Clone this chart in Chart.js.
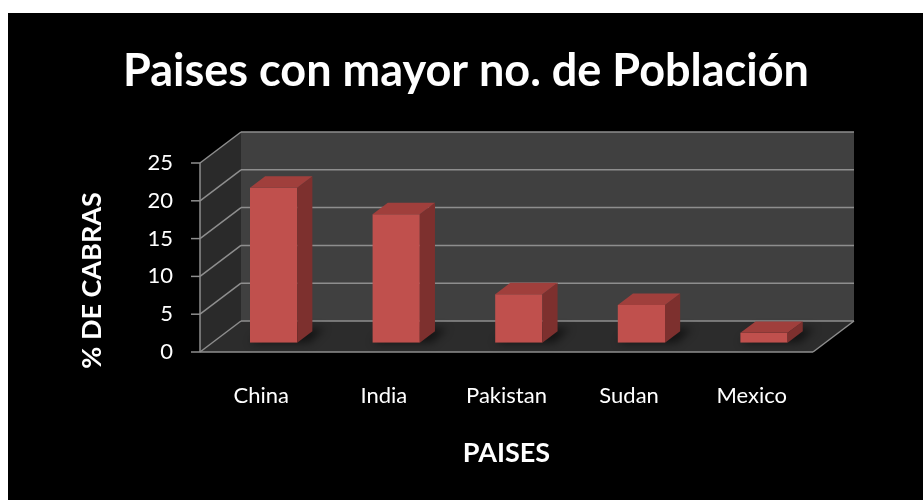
<!DOCTYPE html>
<html lang="es">

<head>
  <meta charset="UTF-8" />
  <title>Paises con mayor no. de Población</title>
  <script src="https://cdn.jsdelivr.net/npm/chart.js"></script>
  <style>
    * {
      margin: 0;
      padding: 0;
      box-sizing: border-box;
    }

    body {
      background: #ffffff;
      width: 923px;
      height: 500px;
      overflow: hidden;
    }

    .card {
      position: absolute;
      left: 8px;
      top: 13px;
      width: 915px;
      height: 487px;
      background: #000000;
    }
  </style>
</head>

<body>
  <div class="card">
    <canvas id="cabrasChart"></canvas>
  </div>

  <script>
    const paises = ['China', 'India', 'Pakistan', 'Sudan', 'Mexico'];
    const porcentajeCabras = [20.5, 17, 6.4, 5.0, 1.3];
    const yTicks = [0, 5, 10, 15, 20, 25];

    // oblique offset of the back wall, and where the bars sit in that depth
    const DX = 41, DY = -31;
    const BAR_FRONT = 0.3, BAR_DEPTH = 0.37;

    function poly(ctx, pts, fill) {
      ctx.beginPath();
      ctx.moveTo(pts[0][0], pts[0][1]);
      for (let i = 1; i < pts.length; i++) ctx.lineTo(pts[i][0], pts[i][1]);
      ctx.closePath();
      ctx.fillStyle = fill;
      ctx.fill();
    }

    function line(ctx, x1, y1, x2, y2) {
      ctx.beginPath();
      ctx.moveTo(x1, y1);
      ctx.lineTo(x2, y2);
      ctx.stroke();
    }

    const box3d = {
      id: 'box3d',
      beforeDatasetsDraw(chart) {
        const ctx = chart.ctx;
        const { left: L, right: R, top: T, bottom: B } = chart.chartArea;
        const y = chart.scales.y;
        ctx.save();
        poly(ctx, [[L, T], [L + DX, T + DY], [L + DX, B + DY], [L, B]], '#2a2a2a');
        poly(ctx, [[L, B], [R, B], [R + DX, B + DY], [L + DX, B + DY]], '#2c2c2c');
        poly(ctx, [[L + DX, T + DY], [R + DX, T + DY], [R + DX, B + DY], [L + DX, B + DY]], '#404040');

        ctx.strokeStyle = '#8e8e8e';
        ctx.lineWidth = 1.5;
        yTicks.forEach(v => {
          const py = y.getPixelForValue(v);
          line(ctx, L + DX, py + DY, R + DX, py + DY);
          line(ctx, L, py, L + DX, py + DY);
          line(ctx, L - 9, py, L, py);
        });
        line(ctx, L, T, L, B);
        line(ctx, L, B, R, B);
        line(ctx, R, B, R + DX, B + DY);

        // soft shadows of the bars on the floor
        const meta = chart.getDatasetMeta(0);
        ctx.filter = 'blur(4px)';
        meta.data.forEach(bar => {
          const { x, width } = bar.getProps(['x', 'width'], true);
          const l = x - width / 2 + BAR_FRONT * DX, r = x + width / 2 + BAR_FRONT * DX;
          const b = B + BAR_FRONT * DY;
          poly(ctx, [[l, b], [r + 12, b], [r + 12 + BAR_DEPTH * DX, b + BAR_DEPTH * DY - 3],
            [l + BAR_DEPTH * DX, b + BAR_DEPTH * DY - 3]], 'rgba(0,0,0,0.55)');
        });
        ctx.filter = 'none';

        // the library draws the front faces, pushed back into the depth
        ctx.translate(BAR_FRONT * DX, BAR_FRONT * DY);
      },
      afterDatasetsDraw(chart) {
        const ctx = chart.ctx;
        ctx.restore();
        const meta = chart.getDatasetMeta(0);
        const bx = BAR_DEPTH * DX, by = BAR_DEPTH * DY;
        meta.data.forEach(bar => {
          const { x, y, base, width } = bar.getProps(['x', 'y', 'base', 'width'], true);
          const l = x - width / 2 + BAR_FRONT * DX, r = x + width / 2 + BAR_FRONT * DX;
          const t = y + BAR_FRONT * DY, b = base + BAR_FRONT * DY;
          poly(ctx, [[r, t], [r + bx, t + by], [r + bx, b + by], [r, b]], '#7d302e');
          poly(ctx, [[l, t], [r, t], [r + bx, t + by], [l + bx, t + by]], '#a03f3c');
        });

        // vertical axis title
        const { top: T, bottom: B } = chart.chartArea;
        ctx.save();
        ctx.translate(84, (T + B) / 2 + 23);
        ctx.rotate(-Math.PI / 2);
        ctx.fillStyle = '#ffffff';
        ctx.font = 'bold 27px Lato';
        ctx.textAlign = 'center';
        ctx.textBaseline = 'middle';
        ctx.fillText('% DE CABRAS', 0, 0);
        ctx.restore();
      }
    };

    Chart.defaults.font.family = 'Lato';
    Chart.defaults.color = '#ffffff';

    const ctx = document.getElementById('cabrasChart').getContext('2d');

    const cabrasChart = new Chart(ctx, {
      type: 'bar',
      data: {
        labels: paises,
        datasets: [{
          label: '% de cabras',
          data: porcentajeCabras,
          backgroundColor: '#c0504d',
          borderWidth: 0,
          barPercentage: 0.385,
          categoryPercentage: 1
        }]
      },
      options: {
        responsive: true,
        maintainAspectRatio: false,
        animation: false,
        layout: {
          padding: { top: 0, right: 110, bottom: 0, left: 111 }
        },
        plugins: {
          legend: { display: false },
          tooltip: { enabled: false },
          title: {
            display: true,
            text: 'Paises con mayor no. de Población',
            color: '#ffffff',
            font: { size: 45, weight: 'bold' },
            padding: { top: 31, bottom: 65 }
          }
        },
        scales: {
          x: {
            grid: { display: false, drawTicks: false },
            border: { display: false },
            ticks: { color: '#ffffff', font: { size: 22 }, padding: 31 },
            title: {
              display: true,
              text: 'PAISES',
              color: '#ffffff',
              font: { size: 27, weight: 'bold' },
              padding: { top: 0, bottom: 31 }
            },
            afterFit: (scale) => { scale.height = 148; }
          },
          y: {
            min: 0,
            max: 25,
            afterBuildTicks: (scale) => { scale.ticks = yTicks.map(v => ({ value: v })); },
            grid: { display: false, drawTicks: false },
            border: { display: false },
            ticks: { color: '#ffffff', font: { size: 22 }, padding: 27 },
            afterFit: (scale) => { scale.width = 81; }
          }
        }
      },
      plugins: [box3d]
    });
  </script>

</body>

</html>
